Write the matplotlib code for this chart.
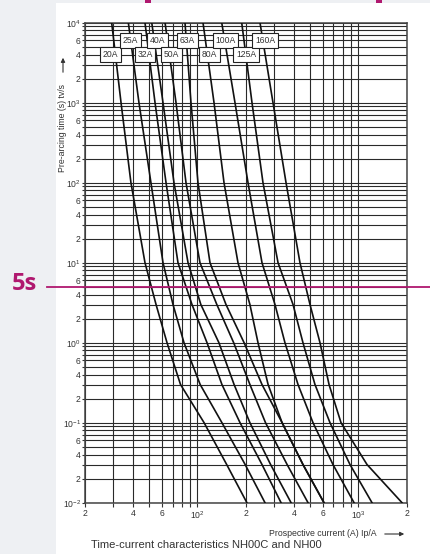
import numpy as np
import matplotlib
matplotlib.use('Agg')
import matplotlib.pyplot as plt
from matplotlib.transforms import blended_transform_factory
from matplotlib.patches import Rectangle

plt.rcParams['font.family'] = ['Liberation Sans', 'DejaVu Sans']
plt.rcParams['mathtext.fontset'] = 'custom'
plt.rcParams['mathtext.rm'] = 'Liberation Sans'
plt.rcParams['mathtext.it'] = 'Liberation Sans:italic'

# ---------------- data ----------------
times = [1e4, 1e3, 1e2, 10, 3, 1, 0.3, 0.1, 0.03, 0.01]   # pre-arcing time (s)

ratings = ['20A', '25A', '32A', '40A', '50A', '63A', '80A', '100A', '125A', '160A']
i_20A = [29.3, 33.5, 38.6, 47.2, 55.3, 64.7, 78.5, 110, 152, 203]
i_25A = [37.2, 43.3, 51.4, 61.1, 70.5, 82.5, 104, 142, 198, 263]
i_32A = [47.2, 54.5, 63.8, 75.7, 92.5, 114.7, 142, 184, 252, 331]
i_40A = [52.0, 61.1, 71.5, 87.4, 105, 136, 169, 212, 285, 382]
i_50A = [62.9, 73.6, 84.9, 103.7, 132, 168, 212, 265, 361, 487]
i_63A = [83.7, 91.2, 100.8, 119.7, 150.5, 195, 252, 336, 453, 612]
i_80A = [108.3, 126.8, 146.3, 178.7, 212, 238, 275, 336, 453, 612]
i_100A = [141.6, 171.2, 206.3, 252, 303.5, 350, 422, 523, 696, 941]
i_125A = [188.5, 218.4, 255.6, 317, 393, 453, 538, 667, 888, 1217]
i_160A = [244.9, 295, 355.5, 434, 501, 578, 658, 781, 1133, 1870]
currents = [i_20A, i_25A, i_32A, i_40A, i_50A, i_63A, i_80A, i_100A, i_125A, i_160A]

# label boxes (rating, current position, time position)
label_text = ['20A', '25A', '32A', '40A', '50A', '63A', '80A', '100A', '125A', '160A']
label_x = [28.7, 38.4, 47.2, 56.5, 69.0, 86.8, 118.9, 149.4, 200.4, 263.2]
label_y = [4000, 6000, 4000, 6000, 4000, 6000, 4000, 6000, 4000, 6000]

x_major = [20, 40, 60, 100, 200, 400, 600, 1000, 2000]
x_major_labels = ['2', '4', '6', r'$10^{2}$', '2', '4', '6', r'$10^{3}$', '2']
x_minor = [30, 50, 70, 80, 90, 300, 500, 700, 800, 900]

decades = [-2, -1, 0, 1, 2, 3]
marker_time = 5

# ---------------- figure ----------------
W, H = 430, 554
fig = plt.figure(figsize=(W / 100, H / 100), dpi=100, facecolor='#eef0f3')
fig.add_artist(Rectangle((56 / W, 0), 1 - 56 / W, (H - 3) / H, transform=fig.transFigure,
                         facecolor='white', edgecolor='none', zorder=-10))
magenta = '#b0186f'
for x0 in (145, 376):
    fig.add_artist(Rectangle((x0 / W, (H - 3) / H), 6 / W, 3 / H, transform=fig.transFigure,
                             facecolor=magenta, edgecolor='none', zorder=-5))

ax = fig.add_axes([85 / W, (H - 502.7) / H, (406.7 - 85) / W, (502.7 - 22.7) / H])
ax.set_xscale('log')
ax.set_yscale('log')
ax.set_xlim(20, 2000)
ax.set_ylim(0.01, 1e4)

ax.set_xticks(x_major)
ax.set_xticklabels(x_major_labels)
ax.set_xticks(x_minor, minor=True)
ax.xaxis.set_minor_formatter(matplotlib.ticker.NullFormatter())

y_major, y_major_labels, y_minor = [], [], []
for d in decades + [4]:
    y_major.append(10.0 ** d)
    y_major_labels.append(r'$10^{%d}$' % d)
    if d < 4:
        for m in (2, 4, 6):
            y_major.append(m * 10.0 ** d)
            y_major_labels.append(str(m))
        for m in (3, 5, 7, 8, 9):
            y_minor.append(m * 10.0 ** d)
ax.set_yticks(y_major)
ax.set_yticklabels(y_major_labels)
ax.set_yticks(y_minor, minor=True)
ax.yaxis.set_minor_formatter(matplotlib.ticker.NullFormatter())

ax.grid(which='both', color='#2a2a2a', lw=0.8)
ax.tick_params(axis='x', which='both', direction='out', length=3, width=0.8, color='#333333',
               labelsize=6.2, labelcolor='#333333', pad=1.5)
ax.tick_params(axis='y', which='both', direction='out', length=2.5, width=0.8, color='#333333',
               labelsize=6.2, labelcolor='#333333', pad=0.5)
for s in ax.spines.values():
    s.set_color('#444444')
    s.set_linewidth(1.1)
ax.set_axisbelow(True)

for cur in currents:
    ax.plot(cur, times, color='#111111', lw=1.2, zorder=3)

for txt, lx, ly in zip(label_text, label_x, label_y):
    ax.text(lx, ly, txt, ha='center', va='center', fontsize=6.2, color='#333333', zorder=5,
            bbox=dict(boxstyle='square,pad=0.3', fc='white', ec='#222222', lw=0.8))

# 5 s marker line
tr = blended_transform_factory(fig.transFigure, ax.transData)
ax.plot([47 / W, 1.0], [marker_time, marker_time], transform=tr, color=magenta, lw=1.3,
        clip_on=False, zorder=6)
fig.text(24 / W, 1 - 284 / H, '5s', ha='center', va='center', fontsize=17,
         fontweight='bold', color=magenta, family=['Open Sans', 'DejaVu Sans'])

# axis titles
fig.text(62.5 / W, 1 - 128 / H, 'Pre-arcing time (s) tv/s', rotation=90, ha='center',
         va='center', fontsize=6.3, color='#333333')
ax.annotate('', xy=(63 / W, 1 - 55 / H), xytext=(63 / W, 1 - 75 / H), xycoords='figure fraction',
            arrowprops=dict(arrowstyle='-|>', lw=0.8, color='#333333', mutation_scale=6))
fig.text(323 / W, 1 - 534 / H, 'Prospective current (A) Ip/A', ha='center', va='center',
         fontsize=6.3, color='#333333')
ax.annotate('', xy=(407 / W, 1 - 534 / H), xytext=(382 / W, 1 - 534 / H), xycoords='figure fraction',
            arrowprops=dict(arrowstyle='-|>', lw=0.8, color='#333333', mutation_scale=6))
fig.text(91 / W, 1 - 545 / H, 'Time-current characteristics NH00C and NH00', ha='left',
         va='center', fontsize=8, color='#333333')

fig.savefig('out.png', dpi=100, facecolor=fig.get_facecolor())
